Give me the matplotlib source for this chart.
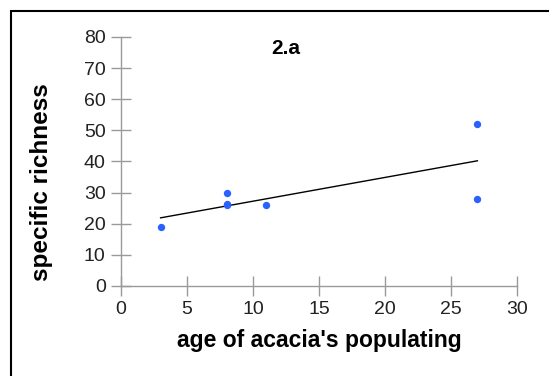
import numpy as np
import matplotlib
matplotlib.use("Agg")
import matplotlib.pyplot as plt
from matplotlib.patches import Rectangle

plt.rcParams['font.family'] = ['Liberation Sans', 'DejaVu Sans']

# data
age = [3, 8, 8, 8, 11, 27, 27]
richness = [19, 30, 26, 26.5, 26, 52, 28]
x_ticks = [0, 5, 10, 15, 20, 25, 30]
y_ticks = [0, 10, 20, 30, 40, 50, 60, 70, 80]

fig = plt.figure(figsize=(5.49, 3.76), dpi=100)
ax = fig.add_axes([0.2204, 0.2394, 0.7213, 0.6622])

# linear trend line
slope, intercept = np.polyfit(age, richness, 1)
xl = np.array([min(age), max(age)])
ax.plot(xl, slope * xl + intercept, color='black', lw=1.0, zorder=2)
ax.scatter(age, richness, s=28, color='#2962ff', zorder=3, linewidths=0)

ax.set_xlim(0, 30)
ax.set_ylim(0, 80)
ax.set_xticks(x_ticks)
ax.set_yticks(y_ticks)
for s in ['top', 'right']:
    ax.spines[s].set_visible(False)
for s in ['left', 'bottom']:
    ax.spines[s].set_color('#9a9a9a')
    ax.spines[s].set_linewidth(1.0)
ax.tick_params(direction='inout', length=14, width=1, color='#9a9a9a',
               labelsize=14, labelcolor='#222222', pad=4)

ax.set_xlabel("age of acacia's populating", fontsize=16.5, fontweight='bold', labelpad=8)
ax.set_ylabel("specific richness", fontsize=17.5, fontweight='bold')
ax.yaxis.set_label_coords(-0.172, 0.418)
ax.text(0.416, 0.99, "2.a", transform=ax.transAxes, ha='center', va='top',
        fontsize=15, fontweight='bold')

# outer frame
fig.patches.append(Rectangle((11 / 549, -0.1), 1.2, 1 - 11 / 376 + 0.1,
                             transform=fig.transFigure, fill=False,
                             edgecolor='black', lw=1.5, clip_on=False))

fig.savefig("out.png", dpi=100)
